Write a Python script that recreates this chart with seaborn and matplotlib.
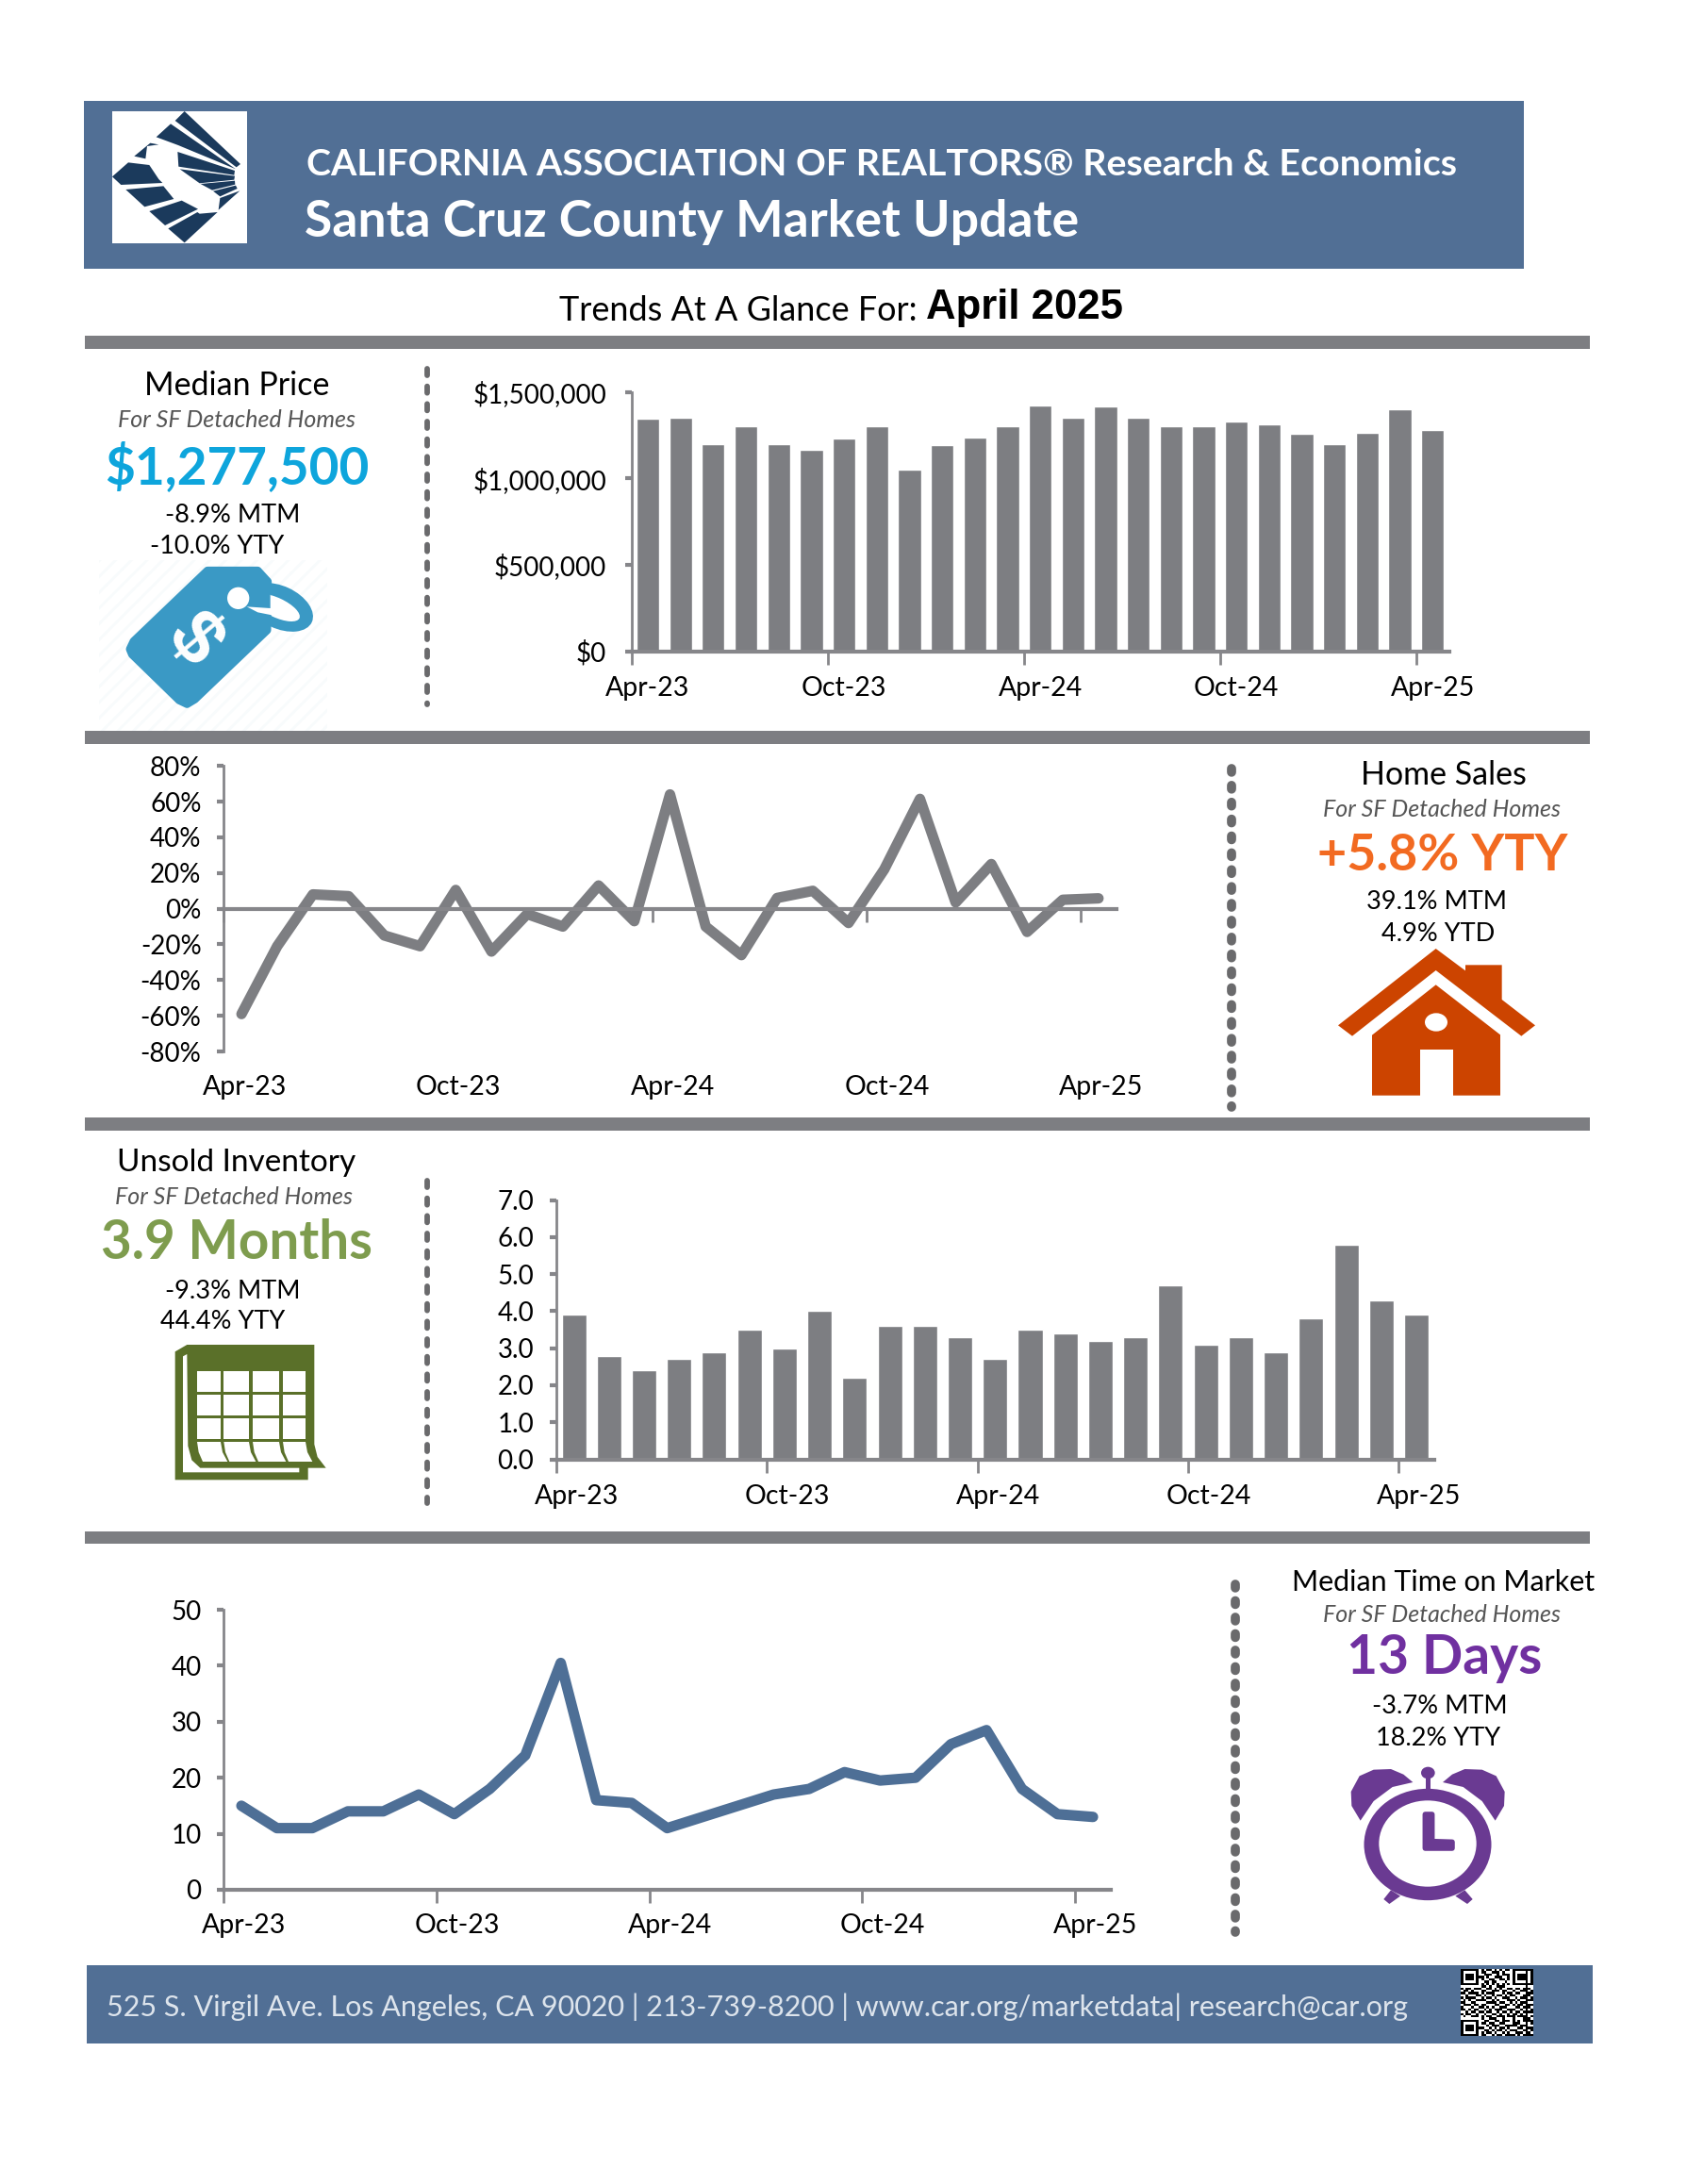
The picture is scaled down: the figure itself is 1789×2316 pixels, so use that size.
import numpy as np
import pandas as pd
import matplotlib
matplotlib.use('Agg')
import matplotlib.pyplot as plt
import seaborn as sns
from matplotlib.patches import Rectangle, Polygon, Ellipse

sns.set_theme(style='white')
plt.rcParams['font.family'] = ['Lato', 'DejaVu Sans']
plt.rcParams['hatch.linewidth'] = 2.0

W, H = 1790, 2316
PAGE = 0.9965  # page layout numbers were measured a touch large

MONTHS = ['Apr-23', 'May-23', 'Jun-23', 'Jul-23', 'Aug-23', 'Sep-23', 'Oct-23', 'Nov-23', 'Dec-23',
          'Jan-24', 'Feb-24', 'Mar-24', 'Apr-24', 'May-24', 'Jun-24', 'Jul-24', 'Aug-24', 'Sep-24',
          'Oct-24', 'Nov-24', 'Dec-24', 'Jan-25', 'Feb-25', 'Mar-25', 'Apr-25']
TICK_LABELS = ['Apr-23', 'Oct-23', 'Apr-24', 'Oct-24', 'Apr-25']

PRICE = [1346000, 1350000, 1200000, 1300000, 1200000, 1165000, 1230000, 1300000, 1050000,
         1190000, 1235000, 1300000, 1420000, 1350000, 1415000, 1350000, 1300000, 1300000,
         1330000, 1310000, 1257000, 1200000, 1265000, 1402000, 1277500]
SALES_YTY = [-59, -21, 8, 7, -15, -21, 10.5, -24, -3, -10, 13, -7, 64, -10, -26, 6, 10, -8,
             22, 61.5, 3.5, 25, -13, 5, 5.8]
INVENTORY = [3.9, 2.8, 2.4, 2.7, 2.9, 3.5, 3.0, 4.0, 2.2, 3.6, 3.6, 3.3, 2.7, 3.5, 3.4, 3.2,
             3.3, 4.7, 3.1, 3.3, 2.9, 3.8, 5.8, 4.3, 3.9]
DAYS = [15, 11, 11, 14, 14, 17, 13.5, 18, 24, 40.5, 16, 15.5, 11, 13, 15, 17, 18, 21, 19.5, 20,
        26, 28.5, 18, 13.5, 13]

PRICE_TICKS = [0, 500000, 1000000, 1500000]
PRICE_LABELS = ['$0', '$500,000', '$1,000,000', '$1,500,000']
SALES_TICKS = [-80, -60, -40, -20, 0, 20, 40, 60, 80]
SALES_LABELS = ['-80%', '-60%', '-40%', '-20%', '0%', '20%', '40%', '60%', '80%']
INV_TICKS = [0, 1, 2, 3, 4, 5, 6, 7]
INV_LABELS = ['0.0', '1.0', '2.0', '3.0', '4.0', '5.0', '6.0', '7.0']
DAY_TICKS = [0, 10, 20, 30, 40, 50]
DAY_LABELS = ['0', '10', '20', '30', '40', '50']

QR_ROWS = [
    '1111111010110101011011111111',
    '1000001011001110100010000101',
    '1011101001110010111010111101',
    '1011101110100111001010111101',
    '1011101010011001101010111101',
    '1000001001101100010010000101',
    '1111111010101010101011111111',
    '0000000011010011100000000100',
    '1011011100110101001101101110',
    '0110100011001110110010011101',
    '1101111010111000101101100111',
    '0010001101001011010110001110',
    '1011110010110100111001011101',
    '0101001111001010001110100111',
    '1100110000111101100101011100',
    '0111011011000110011010110111',
    '1000100110101001110001101110',
    '1101011001010111001110010101',
    '0010110110110010110101101111',
    '1011001001001101001011010100',
    '0100111010110011101110111101',
    '0000000010011100100010001110',
    '1111111001100110111010101111',
    '1000001011011001100011100101',
    '1011101000101110011111011100',
    '1011101110010101101000110111',
    '1011101001101011010111001101',
    '1000001010110100101001110110',
    '1111111011001011011110101111',
]

GRAY = '#7d7e82'
AXIS = '#86868a'
BLUE = '#516f95'
NAVY = '#1b3a5c'
GRAYTXT = '#555555'

fig = plt.figure(figsize=(W / 100, H / 100), dpi=100, facecolor='white')

# background layer in pixel coordinates for the page furniture
bg = fig.add_axes([0, 0, 1, 1], zorder=0)
bg.set_xlim(0, W)
bg.set_ylim(H, 0)
bg.axis('off')


def box(x0, y0, x1, y1, color, z=1):
    bg.add_patch(Rectangle((x0, y0), x1 - x0, y1 - y0, fc=color, ec='none', zorder=z))


def page_box(x0, y0, x1, y1, color, z=1):
    box(x0 * PAGE, y0 * PAGE, x1 * PAGE, y1 * PAGE, color, z)


def poly(pts, color, z=2, round_px=0):
    bg.add_patch(Polygon(pts, closed=True, fc=color, ec=color if round_px else 'none',
                         lw=round_px, joinstyle='round', zorder=z))


def ell(c, w, h, color, z=3):
    bg.add_patch(Ellipse(c, w, h, fc=color, ec='none', zorder=z))


def txt(x, y, s, size, color='black', ha='center', weight='normal', style='normal', family=None):
    kw = {'family': family} if family else {}
    bg.text(x * PAGE, y * PAGE + 2, s, fontsize=size, color=color, ha=ha, va='center', fontweight=weight,
            fontstyle=style, zorder=5, **kw)


def dots(x, y0, y1, width_pt, on, off):
    bg.plot([x * PAGE, x * PAGE], [y0 * PAGE, y1 * PAGE], color='#6a6a6c', lw=width_pt,
            linestyle=(0, (on, off)), dash_capstyle='round', zorder=2)


# header, section rules, footer
page_box(89, 107, 1622, 286, BLUE)
for y0, y1 in [(357, 371), (778, 792), (1189, 1203), (1630, 1643)]:
    page_box(90, y0, 1692, y1, GRAY)
page_box(92, 2091, 1695, 2175, BLUE)

# logo
box(119, 118, 262, 258, 'white', z=2)
LOGO = [
    [(287, 54), (465, 222), (452, 232), (257, 84)],
    [(243, 94), (450, 238), (267, 162), (197, 136)],
    [(178, 155), (205, 160), (168, 165), (163, 205), (127, 197)],
    [(265, 183), (447, 243), (445, 257), (268, 230)],
    [(272, 238), (447, 260), (445, 272), (335, 283)],
    [(338, 285), (447, 275), (448, 287), (375, 305)],
    [(378, 308), (450, 290), (455, 300), (400, 325)],
    [(400, 330), (463, 307), (395, 368)],
    [(108, 217), (175, 225), (205, 270), (217, 282), (85, 288), (57, 262)],
    [(100, 303), (220, 292), (253, 333), (160, 358)],
    [(175, 372), (278, 338), (330, 365), (225, 417)],
    [(235, 427), (328, 375), (335, 380), (392, 375), (287, 472)],
]
for shape in LOGO:
    poly([(100 + a / 3, 100 + b / 3) for a, b in shape], NAVY, z=3)


def tag_pt(a, b):
    return (90 + a / 3, 590 + b / 3)


def house_pt(a, b):
    return (1400 + a / 3, 1000 + b / 3)


def cal_pt(a, b):
    return (170 + a / 3, 1420 + b / 3)


def clk_pt(a, b):
    return (1420 + a / 3, 1870 + b / 3)


# price tag
bg.add_patch(Rectangle(tag_pt(45, 12), 725 / 3, 543 / 3, fc='white', ec='#f8fbfc', lw=0, hatch='//', zorder=1))
TAG_BLUE = '#3a99c5'
bg.add_patch(Ellipse(tag_pt(620, 162), 225 / 3, 135 / 3, angle=25, fc=TAG_BLUE, ec='none', zorder=2))
bg.add_patch(Ellipse(tag_pt(610, 163), 160 / 3, 62 / 3, angle=25, fc='white', ec='none', zorder=2))
poly([tag_pt(*p) for p in [(390, 45), (550, 45), (582, 80), (580, 235), (350, 455), (325, 470),
                           (300, 458), (150, 312), (143, 295), (155, 270)]], TAG_BLUE, z=3, round_px=6)
poly([tag_pt(*p) for p in [(515, 160), (590, 165), (590, 122), (640, 160), (600, 188), (550, 178)]], 'white', z=4)
ell(tag_pt(488, 133), 70 / 3, 70 / 3, 'white', z=4)
x_t, y_t = tag_pt(345, 268)
bg.text(x_t, y_t, '$', fontsize=58, color='white', rotation=-50, ha='center', va='center',
        fontweight='bold', zorder=5, family='Liberation Sans')

# house
HOUSE = '#cc4400'
poly([house_pt(*p) for p in [(368, 18), (462, 88), (462, 70), (578, 70), (578, 180), (684, 262), (640, 296),
                             (368, 87), (102, 296), (57, 262)]], HOUSE, z=3)
poly([house_pt(*p) for p in [(368, 133), (573, 292), (573, 485), (165, 485), (165, 293)]], HOUSE, z=3)
poly([house_pt(*p) for p in [(318, 338), (422, 338), (422, 485), (318, 485)]], 'white', z=4)
ell(house_pt(369, 252), 72 / 3, 58 / 3, 'white', z=4)

# calendar
CAL = '#5a7029'
poly([cal_pt(*p) for p in [(47, 40), (85, 18), (490, 18), (490, 335), (500, 375), (527, 410), (470, 410),
                           (470, 448), (47, 448)]], CAL, z=3)
poly([cal_pt(*p) for p in [(72, 55), (85, 48), (88, 340), (100, 385), (127, 410), (442, 410), (442, 424),
                           (72, 424)]], 'white', z=4)
for x0, x1 in [(117, 192), (202, 282), (294, 378), (390, 462)]:
    for y0, y1 in [(102, 167), (177, 242), (251, 317)]:
        poly([cal_pt(*p) for p in [(x0, y0), (x1, y0), (x1, y1), (x0, y1)]], 'white', z=4)
    poly([cal_pt(*p) for p in [(x0, 327), (x1, 327), (x1 + 6, 360), (x1 + 22, 390), (x0 + 18, 390), (x0 + 5, 360)]],
         'white', z=4)

# clock
CLK = '#6a3a92'
ell(clk_pt(282, 258), 405 / 3, 355 / 3, CLK, z=3)
ell(clk_pt(282, 255), 310 / 3, 274 / 3, 'white', z=4)
BELL = [(68, 182), (40, 135), (38, 90), (65, 40), (110, 20), (165, 18), (205, 35), (235, 60), (170, 75), (110, 120)]
poly([clk_pt(*p) for p in BELL], CLK, z=3)
poly([clk_pt(565 - a, b) for a, b in BELL], CLK, z=3)
ell(clk_pt(283, 30), 44 / 3, 38 / 3, CLK, z=3)
poly([clk_pt(*p) for p in [(275, 45), (290, 45), (290, 85), (275, 85)]], CLK, z=3)
poly([clk_pt(*p) for p in [(274, 162), (296, 162), (296, 248), (360, 250), (360, 270), (274, 270)]], CLK, z=5, round_px=4)
poly([clk_pt(*p) for p in [(165, 403), (195, 422), (160, 447), (142, 432)]], CLK, z=3)
poly([clk_pt(*p) for p in [(400, 403), (425, 432), (408, 447), (370, 422)]], CLK, z=3)

# dotted separators
dots(455, 392, 750, 4.2, 1.2, 2.0)
dots(1311, 818, 1178, 7.0, 0.4, 1.44)
dots(455, 1256, 1600, 4.2, 1.2, 2.0)
dots(1315, 1686, 2056, 7.0, 0.4, 1.4)

# qr code
qr = np.array([[int(c) for c in row] for row in QR_ROWS])
bg.imshow(1 - qr, cmap='gray', extent=(1549, 1626, 2159, 2088), aspect='auto', zorder=3,
          interpolation='nearest', vmin=0, vmax=1)
bg.set_xlim(0, W)
bg.set_ylim(H, 0)

# header and page text
txt(326, 173, 'CALIFORNIA ASSOCIATION OF REALTORS® Research & Economics', 28.4, 'white', ha='left', weight='bold')
txt(324, 234, 'Santa Cruz County Market Update', 38.5, 'white', ha='left', weight='bold')
txt(595, 329, 'Trends At A Glance For:', 25.9, 'black', ha='left')
txt(985, 326, 'April 2025', 31.5, 'black', ha='left', weight='bold', family='Liberation Sans')
txt(113, 2134, '525 S. Virgil Ave. Los Angeles, CA 90020 | 213-739-8200 | www.car.org/marketdata| research@car.org',
    22, '#dde4ec', ha='left')

SUB = 'For SF Detached Homes'
# side panels
txt(252, 408, 'Median Price', 24.5)
txt(252, 445, SUB, 18, GRAYTXT, style='italic')
txt(252, 495, '$1,277,500', 39.5, '#0ea5dc', weight='bold')
txt(248, 546, '-8.9% MTM', 19.5)
txt(231, 580, '-10.0% YTY', 19.5)

txt(1536, 823, 'Home Sales', 24.5)
txt(1534, 860, SUB, 18, GRAYTXT, style='italic')
txt(1535, 909, '+5.8% YTY', 38.7, '#f26a21', weight='bold')
txt(1529, 958, '39.1% MTM', 19.5)
txt(1530, 992, '4.9% YTD', 19.5)

txt(252, 1235, 'Unsold Inventory', 24)
txt(249, 1272, SUB, 18, GRAYTXT, style='italic')
txt(252, 1321, '3.9 Months', 40.7, '#7e9c4e', weight='bold')
txt(248, 1372, '-9.3% MTM', 19.5)
txt(237, 1404, '44.4% YTY', 19.5)

txt(1536, 1682, 'Median Time on Market', 21.9)
txt(1534, 1717, SUB, 18, GRAYTXT, style='italic')
txt(1537, 1763, '13 Days', 41, '#7030a0', weight='bold')
txt(1532, 1814, '-3.7% MTM', 19.5)
txt(1530, 1848, '18.2% YTY', 19.5)


def chart_ax(left, right, top, bottom):
    left, right, top, bottom = left * PAGE, right * PAGE, top * PAGE, bottom * PAGE
    ax = fig.add_axes([left / W, 1 - bottom / H, (right - left) / W, (bottom - top) / H], zorder=3)
    ax.patch.set_alpha(0)
    return ax


def style_ax(ax, ylim, yticks, ylabels, pad, ypad=12, zero_axis=False, label_shift=0.08):
    # moving a spine resets the ticks, so do it first
    if zero_axis:
        ax.spines['bottom'].set_position(('data', 0))
    ax.set_xlim(-0.5, 24.5)
    ax.set_ylim(*ylim)
    ax.set_xlabel('')
    ax.set_ylabel('')
    ax.set_yticks(yticks)
    ax.set_yticklabels(ylabels, fontsize=20, color='black')
    ax.set_xticks(np.arange(0, 25, 6) + label_shift)
    ax.set_xticklabels(TICK_LABELS, fontsize=20.5, color='black')
    ax.set_xticks(np.arange(-0.5, 24.5, 6), minor=True)
    ax.tick_params(axis='x', which='major', length=0, pad=pad)
    ax.tick_params(axis='x', which='minor', length=10, width=2, color=AXIS, bottom=True)
    ax.tick_params(axis='y', length=5, width=3, color=AXIS, left=True, pad=ypad)
    sns.despine(ax=ax)
    ax.spines['left'].set_color(AXIS)
    ax.spines['left'].set_linewidth(2)
    ax.spines['bottom'].set_color(AXIS)
    ax.spines['bottom'].set_linewidth(3)
    ax.grid(False)


# median price bars
ax1 = chart_ax(672, 1542, 417, 693)
df1 = pd.DataFrame({'month': MONTHS, 'value': PRICE})
sns.barplot(data=df1, x='month', y='value', color=GRAY, saturation=1, width=0.7, ax=ax1)
style_ax(ax1, (0, 1500000), PRICE_TICKS, PRICE_LABELS, 19, ypad=14, label_shift=0.0)

# sales line
ax2 = chart_ax(238, 1188, 815, 1119)
df2 = pd.DataFrame({'month': MONTHS, 'value': SALES_YTY})
sns.lineplot(data=df2, x='month', y='value', color=GRAY, lw=8, sort=False, ax=ax2,
             solid_joinstyle='round', solid_capstyle='round')
style_ax(ax2, (-80, 80), SALES_TICKS, SALES_LABELS, 127, zero_axis=True)

# inventory bars
ax3 = chart_ax(592, 1526, 1277, 1553)
df3 = pd.DataFrame({'month': MONTHS, 'value': INVENTORY})
sns.barplot(data=df3, x='month', y='value', color=GRAY, saturation=1, width=0.7, ax=ax3)
style_ax(ax3, (0, 7), INV_TICKS, INV_LABELS, 19)

# time on market line
ax4 = chart_ax(238, 1182, 1713, 2011)
df4 = pd.DataFrame({'month': MONTHS, 'value': DAYS})
sns.lineplot(data=df4, x='month', y='value', color='#4e6f96', lw=8, sort=False, ax=ax4,
             solid_joinstyle='round', solid_capstyle='round')
style_ax(ax4, (0, 50), DAY_TICKS, DAY_LABELS, 18)

fig.savefig('out.png', dpi=100)
